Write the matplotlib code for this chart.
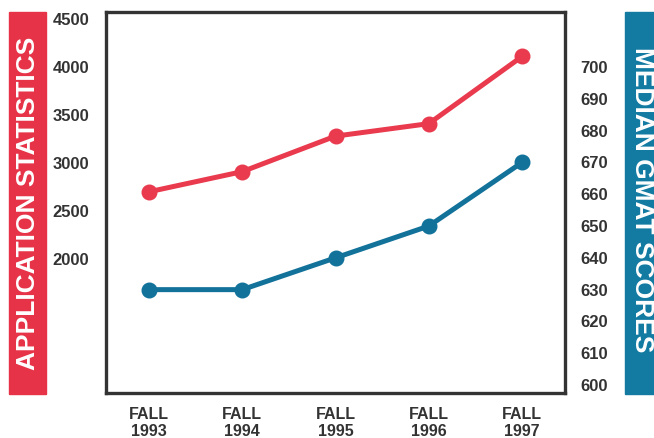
import matplotlib
matplotlib.use('Agg')
import matplotlib.pyplot as plt
from matplotlib.patches import Rectangle

# Datos
anios = [1993, 1994, 1995, 1996, 1997]
etiquetas_x = ['FALL\n1993', 'FALL\n1994', 'FALL\n1995', 'FALL\n1996', 'FALL\n1997']
solicitudes = [2700, 2910, 3280, 3410, 4110]
gmat = [630, 630, 640, 650, 670]
ticks_izq = [2000, 2500, 3000, 3500, 4000, 4500]
ticks_der = [600, 610, 620, 630, 640, 650, 660, 670, 680, 690, 700]

rojo = '#E93A4E'
azul = '#12729A'
banda_roja = '#E63348'
banda_azul = '#137AA2'
oscuro = '#333333'

plt.rcParams['font.family'] = ['Liberation Sans', 'DejaVu Sans']

W, H = 654, 438
fig = plt.figure(figsize=(W / 100, H / 100), dpi=100)
ax = fig.add_axes([106 / W, 1 - 393 / H, 459 / W, 381 / H])
ax2 = ax.twinx()

# Bandas laterales
fig.patches.append(Rectangle((9 / W, 1 - 394 / H), 37 / W, 382 / H,
                             transform=fig.transFigure, color=banda_roja, zorder=0))
fig.patches.append(Rectangle((625 / W, 1 - 394 / H), 40 / W, 382 / H,
                             transform=fig.transFigure, color=banda_azul, zorder=0))
fig.text(28 / W, 1 - 203 / H, 'APPLICATION STATISTICS', rotation=90, color='white',
         fontsize=19, fontweight='bold', ha='center', va='center')
fig.text(642 / W, 1 - 200 / H, 'MEDIAN GMAT SCORES', rotation=-90, color='white',
         fontsize=19, fontweight='bold', ha='center', va='center')

# Series
ax.plot(anios, solicitudes, color=rojo, lw=3.6, marker='o', ms=10.5, zorder=3)
ax2.plot(anios, gmat, color=azul, lw=3.6, marker='o', ms=10.5, zorder=3)

ax.set_xlim(1992.54, 1997.46)
ax.set_ylim(604, 4573)
ax2.set_ylim(597.5, 717.3)

ax.set_xticks(anios)
ax.set_xticklabels(etiquetas_x, fontsize=11.5, fontweight='bold', color=oscuro, linespacing=1.15)
ax.set_yticks(ticks_izq)
ax.set_yticklabels([str(t) for t in ticks_izq], fontsize=12, fontweight='bold', color=oscuro)
ax2.set_yticks(ticks_der)
ax2.set_yticklabels([str(t) for t in ticks_der], fontsize=12, fontweight='bold', color=oscuro)

ax.tick_params(axis='both', length=0)
ax.tick_params(axis='y', pad=12)
ax.tick_params(axis='x', pad=10)
ax2.tick_params(axis='y', length=0, pad=11)

for s in ax.spines.values():
    s.set_linewidth(2.4)
    s.set_color(oscuro)
for s in ax2.spines.values():
    s.set_visible(False)

fig.savefig('out.png', dpi=100)
